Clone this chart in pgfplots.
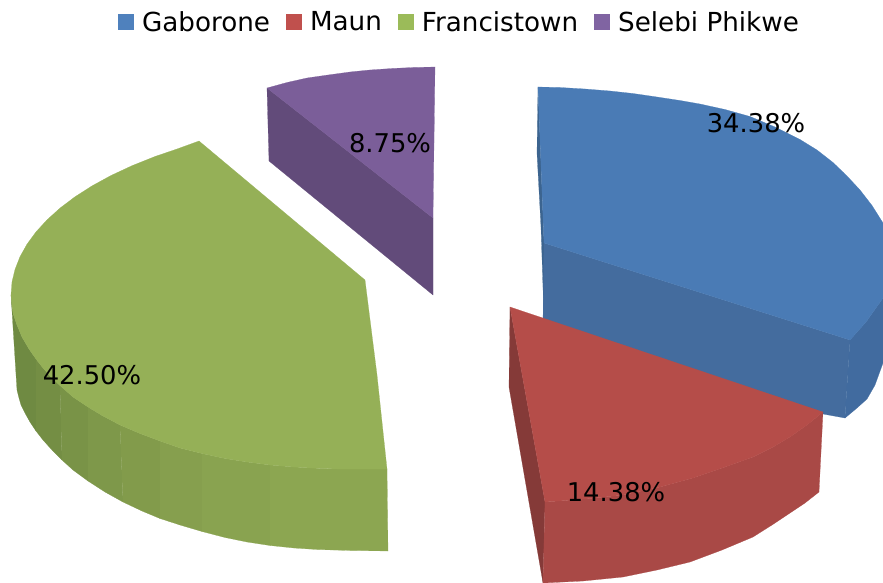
\documentclass[border=0pt]{standalone}
\usepackage{fontspec}
\setmainfont{DejaVu Sans}
\usepackage{pgfplots}
\pgfplotsset{compat=1.18}

\definecolor{blueTop}{HTML}{4A7BB5}
\definecolor{blueWall}{HTML}{446C9E}
\definecolor{blueOut}{HTML}{416B9F}
\definecolor{blueEdge}{HTML}{3C648F}
\definecolor{redTop}{HTML}{B54D49}
\definecolor{redWall}{HTML}{A94946}
\definecolor{redEdge}{HTML}{853A38}
\definecolor{greenTop}{HTML}{95B057}
\definecolor{greenA}{HTML}{6F8A42}
\definecolor{greenB}{HTML}{748E44}
\definecolor{greenC}{HTML}{799347}
\definecolor{greenD}{HTML}{7E984A}
\definecolor{greenE}{HTML}{829B4B}
\definecolor{greenF}{HTML}{869F4E}
\definecolor{greenG}{HTML}{89A350}
\definecolor{greenH}{HTML}{8CA651}
\definecolor{purpleTop}{HTML}{7B5E99}
\definecolor{purpleWall}{HTML}{624B7A}
\definecolor{legBlue}{HTML}{4F81BD}
\definecolor{legRed}{HTML}{C0504D}
\definecolor{legGreen}{HTML}{9BBB59}
\definecolor{legPurple}{HTML}{8064A2}

\pgfplotsset{
  face/.style={fill=#1, draw=#1, line width=0.2pt, mark=none, forget plot},
  square leg/.style={legend image code/.code={\fill[##1, draw=none] (0pt,-8pt) rectangle (16pt,8pt);}},
}

\begin{document}
\begin{tikzpicture}
\begin{axis}[
    scale only axis,
    width=883pt, height=583pt,
    xmin=0, xmax=883, ymin=0, ymax=583,
    y dir=reverse,
    hide axis,
    font=\fontsize{25.8}{30}\selectfont,
    legend columns=4,
    legend style={
      at={(axis cs:459.5,22)}, anchor=center, draw=none, fill=none,
      inner sep=0pt, font=\fontsize{26.2}{30}\selectfont,
      /tikz/every odd column/.append style={column sep=6pt},
      /tikz/every even column/.append style={column sep=14pt},
    },
    square leg,
]
% Gaborone
\addplot[face=blueEdge] coordinates {(538,87) (537,153) (541,227) (544,318) (544,243)} --cycle;
\addplot[face=blueWall] coordinates {(544,243) (850,340) (845,418) (823,414) (543,322)} --cycle;
\addplot[face=blueOut] coordinates {(850,340) (866,322) (883,298) (883,363) (875,385) (867,399) (857,408) (845,418)} --cycle;
\addplot[face=blueTop] coordinates {(538,87) (560,87.5) (585,89) (610,91) (633,93.5) (657,97) (680,100.5) (700,104) (725,109.5) (750,116.5) (775,127) (800,139.5) (817,150) (833,162.5) (847,176) (860,190) (872,205.5) (883,223) (883,298) (866,322) (850,340) (544,243)} --cycle;
% Maun
\addplot[face=redEdge] coordinates {(510,307) (545,502) (543,583) (509,387)} --cycle;
\addplot[face=redWall] coordinates {(545,502) (585,499) (623,495) (660,487) (693,478) (725,467) (753,457) (773,447) (790,437) (807,425) (823,412) (819,492) (805,503) (790,513) (772,525) (753,537) (722,550) (690,562) (657,570) (623,577) (583,581) (543,583)} --cycle;
\addplot[face=redTop] coordinates {(510,307) (823,412) (807,425) (790,437) (773,447) (753,457) (725,467) (693,478) (660,487) (623,495) (585,499) (545,502)} --cycle;
% Francistown
\addplot[face=greenA] coordinates {(11,295) (12,305) (13,313) (17,325) (22,337) (29,349) (36,359) (36,431) (30,422) (25,413) (21,405) (19,398) (17,390)} --cycle;
\addplot[face=greenB] coordinates {(36,359) (43,368) (51,377) (60,385.5) (62,460) (52,450) (43,440) (36,431)} --cycle;
\addplot[face=greenC] coordinates {(60,385.5) (73,397) (88,407) (88,481) (73,470) (62,460)} --cycle;
\addplot[face=greenD] coordinates {(88,407) (103,416) (120,425) (123,502) (105,492) (88,481)} --cycle;
\addplot[face=greenE] coordinates {(120,425) (140,433.5) (160,441) (160,518.5) (142,511) (123,502)} --cycle;
\addplot[face=greenF] coordinates {(160,441) (180,448) (202,453.5) (202,531.5) (180,525) (160,518.5)} --cycle;
\addplot[face=greenG] coordinates {(202,453.5) (225,458.5) (247,462) (270,465) (270,545.5) (247,542) (225,537.5) (202,531.5)} --cycle;
\addplot[face=greenH] coordinates {(270,465) (294,467) (317,468.3) (340,469) (387,469) (388,551) (350,550.5) (317,549.5) (294,548) (270,545.5)} --cycle;
\addplot[face=greenTop] coordinates {(199,141) (177,149) (155,156.5) (132,165.7) (111,175.5) (92,185.9) (75,196.8) (60,208.1) (47,219.9) (36,231.9) (27,244.2) (20,256.7) (15,269.5) (12,282) (11,295) (12,305) (13,313) (17,325) (22,337) (29,349) (36,359) (43,368) (51,377) (60,385.5) (73,397) (88,407) (103,416) (120,425) (140,433.5) (160,441) (180,448) (202,453.5) (225,458.5) (247,462) (270,465) (294,467) (317,468.3) (340,469) (387,469) (377,375) (365,280)} --cycle;
% Selebi Phikwe
\addplot[face=purpleWall] coordinates {(267,88) (433,218) (433,295) (269,161)} --cycle;
\addplot[face=purpleTop] coordinates {(435,67) (413,67.5) (392,68.5) (370,70) (350,72) (328,75) (307,78) (287,82.5) (267,88) (433,218)} --cycle;

\addlegendimage{fill=legBlue}\addlegendentry{Gaborone}
\addlegendimage{fill=legRed}\addlegendentry{Maun}
\addlegendimage{fill=legGreen}\addlegendentry{Francistown}
\addlegendimage{fill=legPurple}\addlegendentry{Selebi Phikwe}

\node at (axis cs:756,123) {34.38\%};
\node at (axis cs:616,492) {14.38\%};
\node at (axis cs:92,375) {42.50\%};
\node at (axis cs:390,143) {8.75\%};
\end{axis}
\pgfresetboundingbox
\useasboundingbox (0,0) rectangle (883pt,583pt);
\end{tikzpicture}
\end{document}
